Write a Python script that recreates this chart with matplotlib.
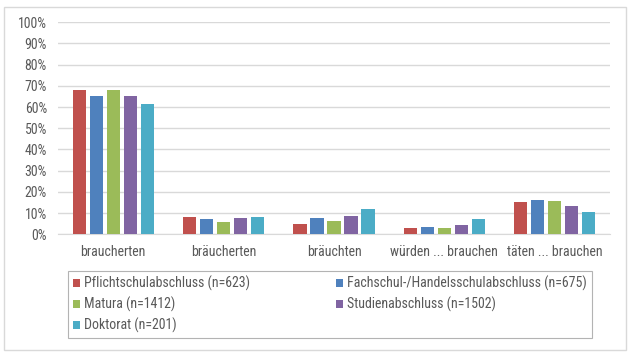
import numpy as np
import matplotlib
matplotlib.use("Agg")
import matplotlib.pyplot as plt
from matplotlib import font_manager as fm
from matplotlib.patches import Rectangle
from matplotlib.ticker import PercentFormatter

categories = ["braucherten", "bräucherten", "bräuchten", "würden ... brauchen", "täten ... brauchen"]
series_names = ["Pflichtschulabschluss (n=623)", "Fachschul-/Handelsschulabschluss (n=675)",
                "Matura (n=1412)", "Studienabschluss (n=1502)", "Doktorat (n=201)"]
pflicht = [68.2, 8.3, 4.9, 2.8, 15.2]
fachschul = [65.2, 7.1, 7.7, 3.3, 16.0]
matura = [68.2, 5.9, 6.3, 3.1, 15.7]
studium = [65.2, 7.7, 8.5, 4.2, 13.3]
doktorat = [61.6, 8.2, 11.8, 7.4, 10.5]
colors = ["#C0504D", "#4F81BD", "#9BBB59", "#8064A2", "#4BACC6"]

# the original uses a narrow sans (Arial Narrow); look for something similar
narrow = None
for key in ["liberationsansnarrow-regular", "arialnarrow", "robotocondensed-regular",
            "dejavusanscondensed.", "opensans_condensed-regular", "opensanscondensed",
            "notosans-condensed.", "notosans-condensedregular", "condensed-regular",
            "semicondensed-regular"]:
    for f in fm.fontManager.ttflist:
        fn = f.fname.lower().replace(" ", "")
        if key in fn and f.style == "normal" and f.weight in (400, "normal", "regular"):
            narrow = f
            break
    if narrow:
        break

if narrow is not None:
    plt.rcParams['font.family'] = [narrow.name, 'DejaVu Sans']
    plt.rcParams['font.stretch'] = narrow.stretch
    fsize = 10
else:
    plt.rcParams['font.family'] = ['Liberation Sans', 'DejaVu Sans']
    fsize = 9

grey = '#595959'

fig = plt.figure(figsize=(6.34, 3.62), dpi=100)
ax = fig.add_axes([0.0915, 0.3528, 0.8707, 0.5856])

x = np.arange(len(categories))
w = 0.12
step = 0.154
bars = []
for i, vals in enumerate([pflicht, fachschul, matura, studium, doktorat]):
    b = ax.bar(x + (i - 2) * step, vals, width=w, color=colors[i], label=series_names[i], zorder=3)
    bars.append(b)

ax.set_xlim(-0.5, len(categories) - 0.5)
ax.set_ylim(0, 100)
ax.set_yticks(np.arange(0, 101, 10))
ax.yaxis.set_major_formatter(PercentFormatter(decimals=0))
ax.set_xticks(x)
ax.set_xticklabels(categories)
ax.grid(axis='y', color='#D9D9D9', linewidth=1, zorder=0)
for s in ['top', 'right', 'left']:
    ax.spines[s].set_visible(False)
ax.spines['bottom'].set_color('#D9D9D9')
ax.tick_params(axis='both', length=0, labelsize=fsize, colors=grey)
ax.tick_params(axis='y', pad=8)
ax.tick_params(axis='x', pad=8)

# legend order: P F / M S / D
order = [0, 2, 4, 1, 3]
lx0, lx1, ly0, ly1 = 68, 592, 270.7, 335.3
leg = fig.legend([bars[i] for i in order], [series_names[i] for i in order],
                 ncol=2, loc='upper left', mode='expand',
                 bbox_to_anchor=(lx0 / 634, 1 - ly1 / 362, (lx1 - lx0) / 634, (ly1 - ly0) / 362),
                 fontsize=fsize, frameon=True, fancybox=False, edgecolor='#A0A0A0',
                 handlelength=0.5, handleheight=0.5, handletextpad=0.3,
                 labelspacing=0.42, borderpad=0.35, borderaxespad=0)
leg.get_frame().set_linewidth(0.8)
for t in leg.get_texts():
    t.set_color(grey)

fig.patches.append(Rectangle((4 / 634, 12 / 362), 622 / 634, 343 / 362, transform=fig.transFigure,
                             fill=False, edgecolor='#D9D9D9', linewidth=1))

fig.savefig("out.png", dpi=100, facecolor='white')
